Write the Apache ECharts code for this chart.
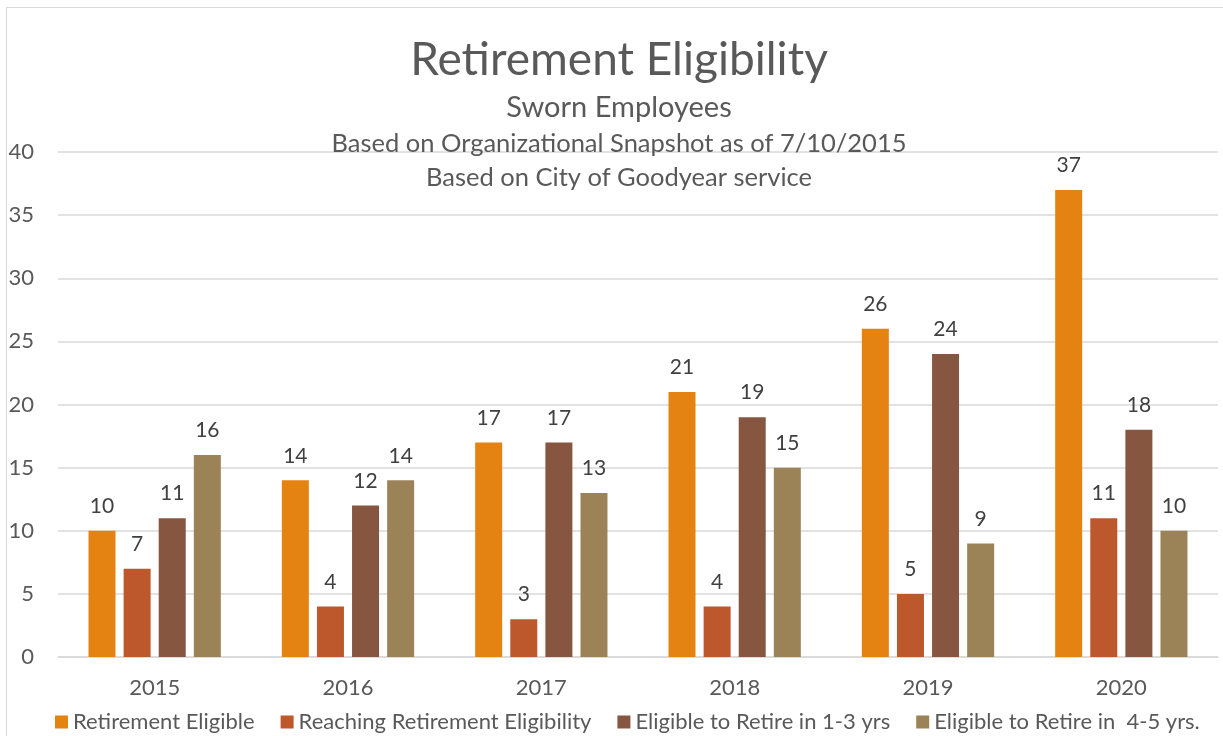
<!DOCTYPE html>
<html>
<head>
<meta charset="utf-8">
<title>Retirement Eligibility</title>
<script src="https://cdn.jsdelivr.net/npm/echarts@6/dist/echarts.min.js"></script>
<style>
  html, body { margin: 0; padding: 0; background: #fff; }
  #main { width: 1223px; height: 736px; }
  #frame { position: absolute; left: 6px; top: 7px; width: 1230px; height: 740px;
           border-left: 1.5px solid #d9d9d9; border-top: 1.5px solid #d9d9d9; pointer-events: none; }
</style>
</head>
<body>
<div id="main"></div>
<div id="frame"></div>
<script>
// 数据
const years = ["2015", "2016", "2017", "2018", "2019", "2020"]
const seriesNames = [
  "Retirement Eligible",
  "Reaching Retirement Eligibility",
  "Eligible to Retire in 1-3 yrs",
  "Eligible to Retire in  4-5 yrs."
]
const retirementEligible = [10, 14, 17, 21, 26, 37]
const reachingEligibility = [7, 4, 3, 4, 5, 11]
const eligible1to3 = [11, 12, 17, 19, 24, 18]
const eligible4to5 = [16, 14, 13, 15, 9, 10]
const colors = ["#E48312", "#BD582C", "#865640", "#9B8357"]

const font = "Lato, 'Noto Sans', sans-serif"
const textColor = "#595959"

var myChart = echarts.init(document.getElementById('main'))

// 柱子系列
function bar(name, data) {
  return {
    name: name,
    type: 'bar',
    data: data,
    barWidth: 27,
    barGap: '30%',
    label: {
      show: true,
      position: 'top',
      distance: 14,
      color: '#404040',
      fontFamily: font,
      fontSize: 21
    }
  }
}

var option = {
  color: colors,
  animation: false,
  textStyle: { fontFamily: font },
  title: [
    { text: 'Retirement Eligibility', left: 619, top: 37, textAlign: 'center', padding: 0,
      textStyle: { fontFamily: font, fontSize: 46, fontWeight: 'normal', color: textColor } },
    { text: 'Sworn Employees', left: 619, top: 93, textAlign: 'center', padding: 0,
      textStyle: { fontFamily: font, fontSize: 29, fontWeight: 'normal', color: textColor } },
    { text: 'Based on Organizational Snapshot as of 7/10/2015', left: 619, top: 131, textAlign: 'center', padding: 0,
      textStyle: { fontFamily: font, fontSize: 25.5, fontWeight: 'normal', color: textColor } },
    { text: 'Based on City of Goodyear service', left: 619, top: 165, textAlign: 'center', padding: 0,
      textStyle: { fontFamily: font, fontSize: 25.5, fontWeight: 'normal', color: textColor } }
  ],
  legend: {
    data: seriesNames,
    left: 50,
    top: 706,
    itemWidth: 13,
    itemHeight: 13,
    itemGap: 26,
    icon: 'rect',
    textStyle: { fontFamily: font, fontSize: 22, color: textColor }
  },
  grid: { left: 58, right: 5, top: 152, bottom: 79 },
  xAxis: {
    type: 'category',
    data: years,
    axisLine: { lineStyle: { color: '#d9d9d9', width: 1.5 } },
    axisTick: { show: false },
    axisLabel: { color: textColor, fontFamily: font, fontSize: 22, margin: 20 }
  },
  yAxis: {
    type: 'value',
    min: 0,
    max: 40,
    interval: 5,
    axisLine: { show: false },
    axisTick: { show: false },
    splitLine: { lineStyle: { color: '#d9d9d9', width: 1.5 } },
    axisLabel: { color: textColor, fontFamily: font, fontSize: 22, align: 'right', margin: 24 }
  },
  series: [
    bar(seriesNames[0], retirementEligible),
    bar(seriesNames[1], reachingEligibility),
    bar(seriesNames[2], eligible1to3),
    bar(seriesNames[3], eligible4to5)
  ]
}

myChart.setOption(option)
</script>
</body>
</html>
